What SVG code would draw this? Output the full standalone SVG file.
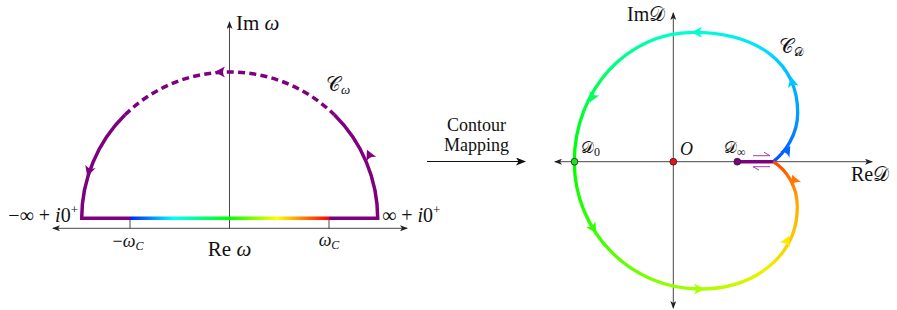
<svg xmlns="http://www.w3.org/2000/svg" width="897" height="310" viewBox="0 0 897 310">
<defs>
<style>
.ax{fill:none;stroke:#333;stroke-width:0.9}
.t{font-family:"Liberation Serif","DejaVu Serif",serif;fill:#111}
.it{font-style:italic}
.m{font-family:"DejaVu Serif","DejaVu Sans","Noto Sans",serif;font-style:normal}
.pur{fill:none;stroke:#7f007f;stroke-width:3.5}
.cv{fill:none;stroke-width:3.3;stroke-linecap:butt}
.dot{stroke:#222;stroke-width:0.8}
</style>
<marker id="ah" viewBox="0 0 8 6" refX="7" refY="3" markerWidth="8" markerHeight="6" markerUnits="userSpaceOnUse" orient="auto-start-reverse">
<path d="M0,0 L8,3 L0,6 L2,3 Z" fill="#222"/>
</marker>
<marker id="ahb" viewBox="0 0 10 8" refX="9" refY="4" markerWidth="10" markerHeight="8" markerUnits="userSpaceOnUse" orient="auto">
<path d="M0,0 L10,4 L0,8 L2.5,4 Z" fill="#111"/>
</marker>
<path id="arr" d="M2.5,0 L-8,-5.5 Q-4,0 -8,5.5 Z"/>
<linearGradient id="gl" gradientUnits="userSpaceOnUse" x1="130" y1="0" x2="329" y2="0">
<stop offset="0" stop-color="#0020ff"/>
<stop offset="0.22" stop-color="#00ffff"/>
<stop offset="0.5" stop-color="#00ff00"/>
<stop offset="0.74" stop-color="#ffff00"/>
<stop offset="1" stop-color="#ff0000"/>
</linearGradient>
<linearGradient id="g1" gradientUnits="userSpaceOnUse" x1="773.3" y1="161.7" x2="797.7" y2="113">
<stop offset="0" stop-color="#0050ff"/><stop offset="1" stop-color="#00a0ff"/>
</linearGradient>
<linearGradient id="g2" gradientUnits="userSpaceOnUse" x1="797.7" y1="113" x2="693" y2="32.3">
<stop offset="0" stop-color="#00a0ff"/><stop offset="0.5" stop-color="#00e0ff"/><stop offset="1" stop-color="#00ffd8"/>
</linearGradient>
<linearGradient id="g3" gradientUnits="userSpaceOnUse" x1="693" y1="32.3" x2="574.3" y2="161.7">
<stop offset="0" stop-color="#00ffd8"/><stop offset="0.5" stop-color="#00ff70"/><stop offset="1" stop-color="#00ff00"/>
</linearGradient>
<linearGradient id="g4" gradientUnits="userSpaceOnUse" x1="574.3" y1="161.7" x2="700" y2="289">
<stop offset="0" stop-color="#00ff00"/><stop offset="0.5" stop-color="#50ff00"/><stop offset="1" stop-color="#a8ff00"/>
</linearGradient>
<linearGradient id="g5" gradientUnits="userSpaceOnUse" x1="700" y1="289" x2="797.3" y2="207">
<stop offset="0" stop-color="#a8ff00"/><stop offset="0.5" stop-color="#f0f000"/><stop offset="1" stop-color="#ffb000"/>
</linearGradient>
<linearGradient id="g6" gradientUnits="userSpaceOnUse" x1="797.3" y1="207" x2="773.3" y2="161.7">
<stop offset="0" stop-color="#ffb000"/><stop offset="1" stop-color="#ff4000"/>
</linearGradient>
</defs>
<rect width="897" height="310" fill="#fff"/>

<!-- LEFT: omega plane -->
<g id="left-axes">
<line class="ax" x1="53" y1="228.3" x2="407" y2="228.3" marker-start="url(#ah)" marker-end="url(#ah)"/>
<line class="ax" x1="229.5" y1="228.3" x2="229.5" y2="22" marker-end="url(#ah)"/>
<line class="ax" x1="130" y1="218" x2="130" y2="228.3"/>
<line class="ax" x1="329" y1="218" x2="329" y2="228.3"/>
</g>
<g id="contour-omega">
<path class="pur" d="M130,218.3 L81.7,218.3 A148,146.3 0 0 1 125.05,114.85"/>
<path class="pur" stroke-dasharray="7 4.3" d="M125.05,114.85 A148,146.3 0 0 1 334.35,114.85"/>
<path class="pur" d="M334.35,114.85 A148,146.3 0 0 1 377.7,218.3 L329,218.3"/>
<path fill="none" stroke="url(#gl)" stroke-width="3.5" d="M130,218.3 H329"/>
<use href="#arr" fill="#7f007f" transform="translate(368,152) rotate(-115)"/>
<use href="#arr" fill="#7f007f" transform="translate(217,72) rotate(180)"/>
<use href="#arr" fill="#7f007f" transform="translate(88,174) rotate(108)"/>
</g>
<g id="left-labels" class="t">
<text x="236" y="30" font-size="21">Im<tspan class="it"> ω</tspan></text>
<text x="229.5" y="256" font-size="21" text-anchor="middle">Re<tspan class="it"> ω</tspan></text>
<text x="78" y="222" font-size="20" text-anchor="end">−∞ + <tspan class="it">i</tspan>0<tspan font-size="13" dy="-8">+</tspan></text>
<text x="382" y="222" font-size="20">∞ + <tspan class="it">i</tspan>0<tspan font-size="13" dy="-8">+</tspan></text>
<text x="128" y="247" font-size="18" text-anchor="middle">−<tspan class="it">ω</tspan><tspan class="it" font-size="12" dy="3">C</tspan></text>
<text x="329" y="246" font-size="18" text-anchor="middle"><tspan class="it">ω</tspan><tspan class="it" font-size="12" dy="3">C</tspan></text>
<text x="326" y="91" font-size="20"><tspan class="m">𝒞</tspan><tspan class="it" font-size="13" dy="3">ω</tspan></text>
</g>

<!-- MIDDLE: mapping arrow -->
<g id="mapping">
<line x1="427" y1="161.5" x2="525" y2="161.5" stroke="#111" stroke-width="1.2" marker-end="url(#ahb)"/>
<text class="t" x="476.5" y="131" font-size="18" text-anchor="middle">Contour</text>
<text class="t" x="476.5" y="151" font-size="18" text-anchor="middle">Mapping</text>
</g>

<!-- RIGHT: D plane -->
<g id="right-axes">
<line class="ax" x1="555" y1="161.7" x2="872" y2="161.7" marker-start="url(#ah)" marker-end="url(#ah)"/>
<line class="ax" x1="673.3" y1="308" x2="673.3" y2="13" marker-start="url(#ah)" marker-end="url(#ah)"/>
</g>
<g id="contour-D">
<path class="pur" d="M737.3,161.7 H773.3"/>
<path class="cv" stroke="url(#g1)" d="M773.3,161.7 C785,152 797.7,135 797.7,113"/>
<path class="cv" stroke="url(#g2)" d="M797.7,113 C797.7,63 758,32.3 693,32.3"/>
<path class="cv" stroke="url(#g3)" d="M693,32.3 C627.4,32.3 574.3,90.2 574.3,161.7"/>
<path class="cv" stroke="url(#g4)" d="M574.3,161.7 C574.3,232 630.6,289 700,289"/>
<path class="cv" stroke="url(#g5)" d="M700,289 C756.4,289 797.3,254.6 797.3,207"/>
<path class="cv" stroke="url(#g6)" d="M797.3,207 C797.3,185 786,170 773.3,161.7"/>
<use href="#arr" fill="#0066ff" transform="translate(789,148) rotate(-58)"/>
<use href="#arr" fill="#00c8ff" transform="translate(791.5,79) rotate(-102)"/>
<use href="#arr" fill="#00ffd0" transform="translate(694,32.3) rotate(180)"/>
<use href="#arr" fill="#00ff60" transform="translate(591,100) rotate(116)"/>
<use href="#arr" fill="#30ff00" transform="translate(595,231) rotate(58)"/>
<use href="#arr" fill="#a8ff00" transform="translate(702,289) rotate(0)"/>
<use href="#arr" fill="#ffe800" transform="translate(788,238) rotate(-66)"/>
<use href="#arr" fill="#ff7800" transform="translate(793,177) rotate(-112)"/>
<g fill="none" stroke="#a040a0" stroke-width="1">
<path d="M753,155.7 H770 L764,152.3"/>
<path d="M770,166.7 H753 L759,170.1"/>
</g>
</g>
<g id="pt-D0"><circle class="dot" cx="574.5" cy="161.7" r="3.4" fill="#22dd22"/></g>
<g id="pt-O"><circle class="dot" cx="673.3" cy="161.7" r="3.4" fill="#ee1111"/></g>
<g id="pt-Dinf"><circle class="dot" cx="737.3" cy="161.7" r="3.4" fill="#7f007f"/></g>
<g id="right-labels" class="t">
<text x="627" y="21" font-size="20">Im<tspan class="m">𝒟</tspan></text>
<text x="851" y="181" font-size="20">Re<tspan class="m">𝒟</tspan></text>
<text x="779" y="53" font-size="20"><tspan class="m">𝒞</tspan><tspan class="m" font-size="12" dy="3">𝒟</tspan></text>
<text x="581" y="153" font-size="16"><tspan class="m">𝒟</tspan><tspan font-size="12" dy="3">0</tspan></text>
<text x="680" y="155" font-size="18" class="it">O</text>
<text x="724" y="153" font-size="16"><tspan class="m">𝒟</tspan><tspan font-size="12" dy="3">∞</tspan></text>
</g>
</svg>
